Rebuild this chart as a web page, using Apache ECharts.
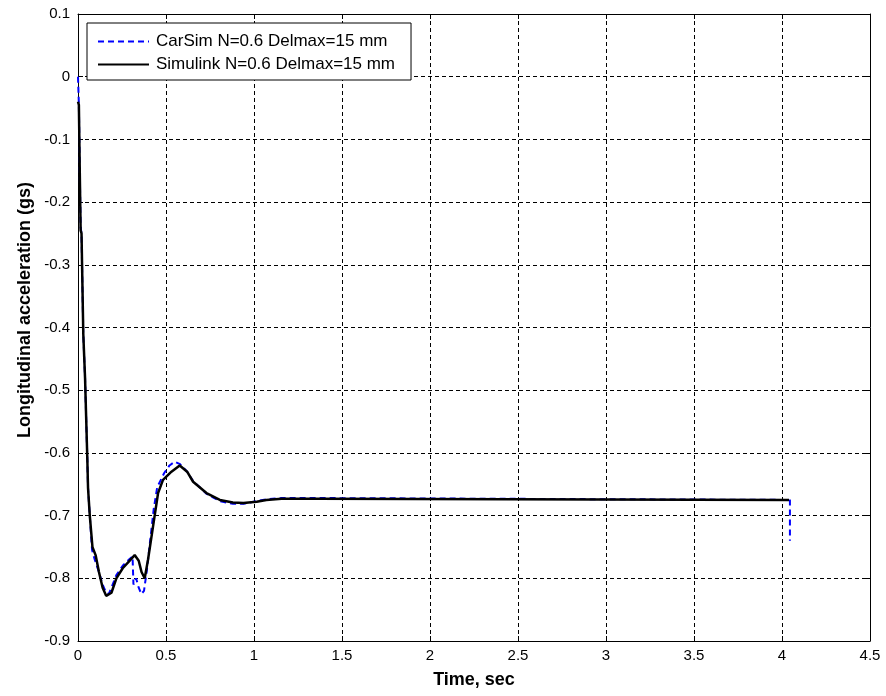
<!DOCTYPE html>
<html>
<head>
<meta charset="utf-8">
<script src="https://cdn.jsdelivr.net/npm/echarts@6/dist/echarts.min.js"></script>
<style>
  html, body { margin: 0; padding: 0; background: #fff; }
  #main { width: 886px; height: 696px; }
</style>
</head>
<body>
<div id="main"></div>
<script>
// values (time in sec, accel in g)
var carsimTime = [0, 0.005, 0.01, 0.015, 0.02, 0.025, 0.03, 0.04, 0.047, 0.053, 0.057, 0.067, 0.08, 0.095, 0.119, 0.14, 0.16, 0.175, 0.19, 0.218, 0.254, 0.29, 0.31, 0.315, 0.33, 0.345, 0.36, 0.375, 0.39, 0.41, 0.43, 0.45, 0.49, 0.52, 0.55, 0.58, 0.62, 0.654, 0.73, 0.806, 0.88, 0.94, 1.015, 1.07, 1.157, 1.36, 1.37, 4.045, 4.045];
var carsimAccel = [0, -0.045, -0.15, -0.24, -0.25, -0.33, -0.41, -0.48, -0.55, -0.61, -0.656, -0.70, -0.755, -0.77, -0.79, -0.81, -0.823, -0.825, -0.815, -0.795, -0.78, -0.77, -0.765, -0.81, -0.80, -0.815, -0.825, -0.82, -0.79, -0.74, -0.69, -0.655, -0.632, -0.62, -0.614, -0.618, -0.63, -0.645, -0.665, -0.677, -0.681, -0.681, -0.677, -0.674, -0.672, -0.672, -0.675, -0.675, -0.74];

var simTime = [0, 0.005, 0.01, 0.015, 0.02, 0.025, 0.03, 0.04, 0.047, 0.053, 0.057, 0.067, 0.082, 0.1, 0.119, 0.14, 0.16, 0.171, 0.19, 0.218, 0.254, 0.29, 0.322, 0.332, 0.345, 0.361, 0.379, 0.398, 0.426, 0.455, 0.483, 0.531, 0.578, 0.62, 0.654, 0.73, 0.806, 0.88, 0.94, 1.015, 1.07, 1.157, 1.36, 1.37, 4.04];
var simAccel = [-0.04, -0.045, -0.15, -0.245, -0.25, -0.33, -0.41, -0.48, -0.55, -0.61, -0.656, -0.70, -0.75, -0.763, -0.79, -0.815, -0.828, -0.83, -0.823, -0.80, -0.784, -0.773, -0.763, -0.76, -0.772, -0.79, -0.80, -0.77, -0.718, -0.664, -0.643, -0.63, -0.62, -0.63, -0.646, -0.664, -0.675, -0.679, -0.68, -0.678, -0.675, -0.673, -0.673, -0.675, -0.675];

var seriesNames = ['CarSim N=0.6 Delmax=15 mm', 'Simulink N=0.6 Delmax=15 mm'];
var xTitle = 'Time, sec';
var yTitle = 'Longitudinal acceleration (gs)';

function pairs(xs, ys) {
  var out = [];
  for (var i = 0; i < xs.length; i++) out.push([xs[i], ys[i]]);
  return out;
}

var chartDom = document.getElementById('main');
var myChart = echarts.init(chartDom);

var font = 'Arial, "Liberation Sans", sans-serif';
var gridLine = { show: true, lineStyle: { color: '#000', type: [4, 3], width: 1 } };
var boxLine = { show: true, onZero: false, lineStyle: { color: '#000', width: 1 } };
var tickIn = { show: true, inside: true, length: 5, lineStyle: { color: '#000' } };

var option = {
  animation: false,
  backgroundColor: '#fff',
  grid: { left: 78, right: 16, top: 14, bottom: 55, containLabel: false, outerBoundsMode: 'none' },
  legend: {
    left: 87,
    top: 23,
    orient: 'vertical',
    backgroundColor: '#fff',
    borderColor: '#000',
    borderWidth: 1,
    borderRadius: 0,
    padding: [10, 16, 7, 10],
    itemGap: 6,
    itemWidth: 51,
    itemHeight: 17,
    selectedMode: false,
    itemStyle: { opacity: 0 },
    textStyle: { fontFamily: font, fontSize: 17, color: '#000', padding: [0, 0, 0, 2] },
    data: seriesNames
  },
  graphic: [
    {
      type: 'text',
      x: 25, y: 310, rotation: Math.PI / 2,
      style: {
        text: yTitle, fontFamily: font, fontSize: 18, fontWeight: 'bold',
        fill: '#000', align: 'center', verticalAlign: 'middle'
      }
    }
  ],
  xAxis: [
    {
      type: 'value', min: 0, max: 4.5, interval: 0.5,
      name: xTitle, nameLocation: 'middle', nameGap: 30,
      nameTextStyle: { fontFamily: font, fontSize: 18, fontWeight: 'bold', color: '#000' },
      axisLine: boxLine, axisTick: tickIn, splitLine: gridLine,
      axisLabel: { fontFamily: font, fontSize: 15, color: '#000', margin: 7 }
    },
    {
      type: 'value', position: 'top', min: 0, max: 4.5, interval: 0.5,
      axisLine: boxLine, axisTick: tickIn, splitLine: { show: false },
      axisLabel: { show: false }
    }
  ],
  yAxis: [
    {
      type: 'value', min: -0.9, max: 0.1, interval: 0.1,
      axisLine: boxLine, axisTick: tickIn, splitLine: gridLine,
      axisLabel: {
        fontFamily: font, fontSize: 15, color: '#000', margin: 8,
        formatter: function (v) { return String(Math.round(v * 10) / 10); }
      }
    },
    {
      type: 'value', position: 'right', min: -0.9, max: 0.1, interval: 0.1,
      axisLine: boxLine, axisTick: tickIn, splitLine: { show: false },
      axisLabel: { show: false }
    }
  ],
  series: [
    {
      name: seriesNames[0],
      type: 'line',
      symbol: 'none',
      lineStyle: { color: '#0000ff', width: 2, type: [6, 4] },
      itemStyle: { color: '#0000ff' },
      data: pairs(carsimTime, carsimAccel)
    },
    {
      name: seriesNames[1],
      type: 'line',
      symbol: 'none',
      lineStyle: { color: '#000', width: 2.5 },
      itemStyle: { color: '#000' },
      data: pairs(simTime, simAccel)
    }
  ]
};

myChart.setOption(option);
</script>
</body>
</html>
